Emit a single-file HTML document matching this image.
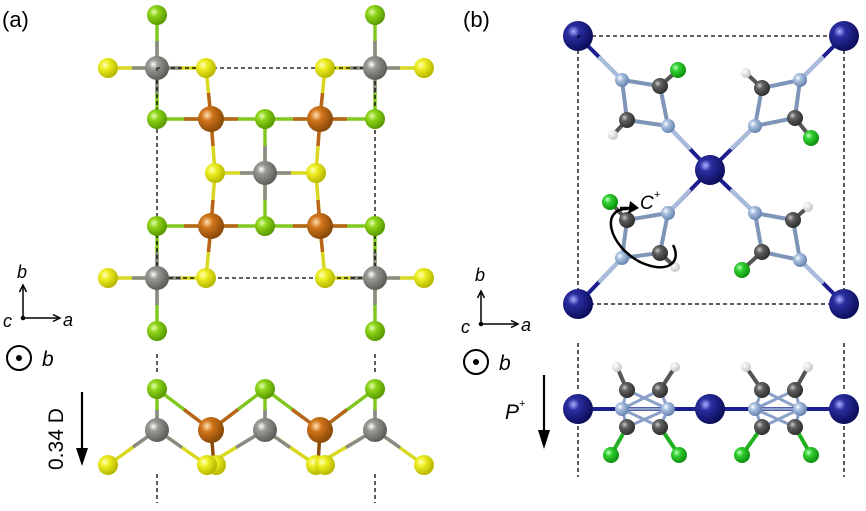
<!DOCTYPE html>
<html><head><meta charset="utf-8"><style>
html,body{margin:0;padding:0;background:#fff;}
svg{display:block;}
text{font-family:"Liberation Sans",sans-serif;fill:#000;}
</style></head><body>
<svg width="866" height="511" viewBox="0 0 866 511" xmlns="http://www.w3.org/2000/svg">
<defs>
<radialGradient id="gy" cx="35%" cy="35%" r="65%"><stop offset="0" stop-color="#ffffc0"/><stop offset="0.35" stop-color="#eeee22"/><stop offset="1" stop-color="#b8b800"/></radialGradient>
<radialGradient id="gg" cx="35%" cy="35%" r="65%"><stop offset="0" stop-color="#e6ffb0"/><stop offset="0.35" stop-color="#8ed41a"/><stop offset="1" stop-color="#5a9a00"/></radialGradient>
<radialGradient id="gr" cx="35%" cy="35%" r="65%"><stop offset="0" stop-color="#ffffff"/><stop offset="0.3" stop-color="#9a9a94"/><stop offset="1" stop-color="#5e5e5a"/></radialGradient>
<radialGradient id="go" cx="35%" cy="35%" r="65%"><stop offset="0" stop-color="#ffe0b0"/><stop offset="0.35" stop-color="#d0741a"/><stop offset="1" stop-color="#8a4a08"/></radialGradient>
<radialGradient id="gb" cx="35%" cy="35%" r="65%"><stop offset="0" stop-color="#aab0ff"/><stop offset="0.3" stop-color="#2a2ea0"/><stop offset="1" stop-color="#0c0e5c"/></radialGradient>
<radialGradient id="gn" cx="35%" cy="35%" r="65%"><stop offset="0" stop-color="#ffffff"/><stop offset="0.35" stop-color="#a8c0e0"/><stop offset="1" stop-color="#6a86b0"/></radialGradient>
<radialGradient id="gc" cx="35%" cy="35%" r="65%"><stop offset="0" stop-color="#c8c8c8"/><stop offset="0.35" stop-color="#5e5e5e"/><stop offset="1" stop-color="#303030"/></radialGradient>
<radialGradient id="gl" cx="35%" cy="35%" r="65%"><stop offset="0" stop-color="#c0ffc0"/><stop offset="0.35" stop-color="#30d030"/><stop offset="1" stop-color="#109010"/></radialGradient>
<radialGradient id="gh" cx="35%" cy="35%" r="65%"><stop offset="0" stop-color="#ffffff"/><stop offset="1" stop-color="#c8c8c8"/></radialGradient>
</defs>

<text x="2" y="27" font-size="22">(a)</text>
<text x="463" y="27" font-size="22">(b)</text>

<!-- ===== Panel a top ===== -->
<g stroke-width="3.5">
<!-- gray-yellow horizontal -->
<g stroke="#d8d820">
<line x1="108" y1="68" x2="206" y2="68"/><line x1="325" y1="68" x2="424" y2="68"/>
<line x1="108" y1="278" x2="206" y2="278"/><line x1="325" y1="278" x2="424" y2="278"/>
<line x1="215" y1="173" x2="316" y2="173"/>
</g>
<g stroke="#8a8a86">
<line x1="132" y1="68" x2="181" y2="68"/><line x1="350" y1="68" x2="400" y2="68"/>
<line x1="132" y1="278" x2="181" y2="278"/><line x1="350" y1="278" x2="400" y2="278"/>
<line x1="240" y1="173" x2="291" y2="173"/>
</g>
<!-- gray-green vertical -->
<g stroke="#80c820">
<line x1="157" y1="15" x2="157" y2="119"/><line x1="375" y1="15" x2="375" y2="119"/>
<line x1="157" y1="226" x2="157" y2="331"/><line x1="375" y1="226" x2="375" y2="331"/>
<line x1="265" y1="119" x2="265" y2="226"/>
</g>
<g stroke="#8a8a86">
<line x1="157" y1="41" x2="157" y2="93"/><line x1="375" y1="41" x2="375" y2="93"/>
<line x1="157" y1="252" x2="157" y2="305"/><line x1="375" y1="252" x2="375" y2="305"/>
<line x1="265" y1="146" x2="265" y2="200"/>
</g>
<!-- green-orange -->
<g stroke="#80c820">
<line x1="157" y1="119" x2="375" y2="119"/><line x1="157" y1="226" x2="375" y2="226"/>
</g>
<g stroke="#b8641a">
<line x1="184" y1="119" x2="238" y2="119"/><line x1="293" y1="119" x2="347" y2="119"/>
<line x1="184" y1="226" x2="238" y2="226"/><line x1="293" y1="226" x2="347" y2="226"/>
</g>
<!-- orange-yellow -->
<g stroke="#d8d820">
<line x1="206" y1="68" x2="211" y2="119"/><line x1="325" y1="68" x2="320" y2="119"/>
<line x1="211" y1="119" x2="215" y2="173"/><line x1="320" y1="119" x2="316" y2="173"/>
<line x1="215" y1="173" x2="211" y2="226"/><line x1="316" y1="173" x2="320" y2="226"/>
<line x1="211" y1="226" x2="206" y2="278"/><line x1="320" y1="226" x2="325" y2="278"/>
</g>
<g stroke="#b8641a">
<line x1="208.5" y1="93" x2="211" y2="119"/><line x1="322.5" y1="93" x2="320" y2="119"/>
<line x1="211" y1="119" x2="213" y2="146"/><line x1="320" y1="119" x2="318" y2="146"/>
<line x1="213" y1="200" x2="211" y2="226"/><line x1="318" y1="200" x2="320" y2="226"/>
<line x1="211" y1="226" x2="208.5" y2="252"/><line x1="320" y1="226" x2="322.5" y2="252"/>
</g>
</g>
<rect x="157" y="68" width="218" height="210" fill="none" stroke="#000" stroke-width="1.3" stroke-dasharray="4,3"/>
<g>
<circle cx="157" cy="15" r="10" fill="url(#gg)"/><circle cx="375" cy="15" r="10" fill="url(#gg)"/>
<circle cx="108" cy="68" r="10" fill="url(#gy)"/><circle cx="424" cy="68" r="10" fill="url(#gy)"/>
<circle cx="206" cy="68" r="10" fill="url(#gy)"/><circle cx="325" cy="68" r="10" fill="url(#gy)"/>
<circle cx="157" cy="68" r="12" fill="url(#gr)"/><circle cx="375" cy="68" r="12" fill="url(#gr)"/>
<circle cx="157" cy="119" r="10" fill="url(#gg)"/><circle cx="265" cy="119" r="10" fill="url(#gg)"/><circle cx="375" cy="119" r="10" fill="url(#gg)"/>
<circle cx="211" cy="119" r="13" fill="url(#go)"/><circle cx="320" cy="119" r="13" fill="url(#go)"/>
<circle cx="215" cy="173" r="10" fill="url(#gy)"/><circle cx="316" cy="173" r="10" fill="url(#gy)"/>
<circle cx="265" cy="173" r="12" fill="url(#gr)"/>
<circle cx="157" cy="226" r="10" fill="url(#gg)"/><circle cx="265" cy="226" r="10" fill="url(#gg)"/><circle cx="375" cy="226" r="10" fill="url(#gg)"/>
<circle cx="211" cy="226" r="13" fill="url(#go)"/><circle cx="320" cy="226" r="13" fill="url(#go)"/>
<circle cx="108" cy="278" r="10" fill="url(#gy)"/><circle cx="424" cy="278" r="10" fill="url(#gy)"/>
<circle cx="206" cy="278" r="10" fill="url(#gy)"/><circle cx="325" cy="278" r="10" fill="url(#gy)"/>
<circle cx="157" cy="278" r="12" fill="url(#gr)"/><circle cx="375" cy="278" r="12" fill="url(#gr)"/>
<circle cx="157" cy="331" r="10" fill="url(#gg)"/><circle cx="375" cy="331" r="10" fill="url(#gg)"/>
</g>
<path d="M157 68 v3 M157 68 h3" stroke="#000" stroke-width="1"/>

<!-- Panel a side view -->
<g stroke="#000" stroke-width="1.3" stroke-dasharray="4,3">
<line x1="157" y1="354" x2="157" y2="372"/><line x1="375" y1="354" x2="375" y2="372"/>
<line x1="157" y1="474" x2="157" y2="503"/><line x1="375" y1="474" x2="375" y2="503"/>
</g>
<g stroke-width="3.5">
<g stroke="#80c820">
<line x1="157" y1="389" x2="211" y2="430"/><line x1="265" y1="389" x2="211" y2="430"/>
<line x1="265" y1="389" x2="320" y2="430"/><line x1="375" y1="389" x2="320" y2="430"/>
<line x1="157" y1="389" x2="157" y2="430"/><line x1="265" y1="389" x2="265" y2="430"/><line x1="375" y1="389" x2="375" y2="430"/>
</g>
<g stroke="#b8641a">
<line x1="184" y1="409.5" x2="211" y2="430"/><line x1="238" y1="409.5" x2="211" y2="430"/>
<line x1="292" y1="409.5" x2="320" y2="430"/><line x1="347" y1="409.5" x2="320" y2="430"/>
</g>
<g stroke="#8a8a86">
<line x1="157" y1="410" x2="157" y2="430"/><line x1="265" y1="410" x2="265" y2="430"/><line x1="375" y1="410" x2="375" y2="430"/>
</g>
<polyline points="108,465 157,430 207,465 265,430 316,465 375,430 424,465" fill="none" stroke="#d8d820"/>
<g stroke="#8a8a86">
<line x1="132" y1="447.5" x2="182" y2="447.5" stroke="none"/>
<line x1="133" y1="447" x2="157" y2="430"/><line x1="157" y1="430" x2="182" y2="447.5"/>
<line x1="236" y1="447.5" x2="265" y2="430"/><line x1="265" y1="430" x2="290" y2="447.5"/>
<line x1="346" y1="447.5" x2="375" y2="430"/><line x1="375" y1="430" x2="400" y2="447.5"/>
</g>
<line x1="211" y1="430" x2="214" y2="465" stroke="#8a4a08"/>
<line x1="320" y1="430" x2="318" y2="465" stroke="#8a4a08"/>
</g>
<g>
<circle cx="157" cy="389" r="10" fill="url(#gg)"/><circle cx="265" cy="389" r="10" fill="url(#gg)"/><circle cx="375" cy="389" r="10" fill="url(#gg)"/>
<circle cx="157" cy="430" r="12" fill="url(#gr)"/><circle cx="265" cy="430" r="12" fill="url(#gr)"/><circle cx="375" cy="430" r="12" fill="url(#gr)"/>
<circle cx="211" cy="430" r="13" fill="url(#go)"/><circle cx="320" cy="430" r="13" fill="url(#go)"/>
<circle cx="108" cy="465" r="10" fill="url(#gy)"/><circle cx="216" cy="465" r="10" fill="url(#gy)"/><circle cx="207" cy="465" r="10" fill="url(#gy)"/>
<circle cx="316" cy="465" r="10" fill="url(#gy)"/><circle cx="325" cy="465" r="10" fill="url(#gy)"/><circle cx="424" cy="465" r="10" fill="url(#gy)"/>
</g>

<!-- axes a -->
<text x="17" y="278" font-size="18" font-style="italic">b</text>
<text x="3" y="327" font-size="18" font-style="italic">c</text>
<text x="63" y="326" font-size="18" font-style="italic">a</text>
<g stroke="#000" stroke-width="1.5" fill="none">
<line x1="23" y1="318" x2="23" y2="287"/><path d="M19.5 292 L23 285 L26.5 292"/>
<line x1="23" y1="318" x2="58" y2="318"/><path d="M53 314.5 L60 318 L53 321.5"/>
<circle cx="19" cy="358" r="12" stroke-width="2"/>
</g>
<circle cx="23" cy="318" r="2.3"/>
<circle cx="19" cy="358" r="3"/>
<text x="42" y="366" font-size="21" font-style="italic">b</text>
<text transform="translate(63,470) rotate(-90)" font-size="21">0.34 D</text>
<line x1="82" y1="392" x2="82" y2="455" stroke="#000" stroke-width="2.2"/>
<path d="M76 448 L82 466 L88 448 Z" fill="#000"/>

<!-- ===== Panel b top ===== -->
<rect x="578" y="36" width="266" height="268" fill="none" stroke="#000" stroke-width="1.3" stroke-dasharray="4,3"/>
<g stroke-width="4" stroke-linecap="round">
<line x1="578" y1="36" x2="622" y2="80" stroke="#1c1e90"/>
<line x1="844" y1="36" x2="800" y2="80" stroke="#1c1e90"/>
<line x1="578" y1="304" x2="622" y2="258" stroke="#1c1e90"/>
<line x1="844" y1="304" x2="800" y2="260" stroke="#1c1e90"/>
<line x1="710" y1="170" x2="668" y2="126" stroke="#1c1e90"/>
<line x1="710" y1="170" x2="755" y2="126" stroke="#1c1e90"/>
<line x1="710" y1="170" x2="668" y2="213" stroke="#1c1e90"/>
<line x1="710" y1="170" x2="755" y2="213" stroke="#1c1e90"/>
<g stroke="#a8bcdc">
<line x1="600" y1="58" x2="622" y2="80"/><line x1="822" y1="58" x2="800" y2="80"/>
<line x1="600" y1="281" x2="622" y2="258"/><line x1="822" y1="282" x2="800" y2="260"/>
<line x1="689" y1="148" x2="668" y2="126"/><line x1="732" y1="148" x2="755" y2="126"/>
<line x1="689" y1="191" x2="668" y2="213"/><line x1="732" y1="191" x2="755" y2="213"/>
</g>
<g stroke="#7e94b8">
<polygon points="622,80 660,86 668,126 627,120" fill="none"/>
<polygon points="800,80 762,88 755,126 795,118" fill="none"/>
<polygon points="668,213 627,220 622,258 660,253" fill="none"/>
<polygon points="755,213 793,220 800,260 762,252" fill="none"/>
</g>
<g stroke="#555">
<line x1="660" y1="86" x2="678" y2="70"/><line x1="627" y1="120" x2="613" y2="135"/>
<line x1="762" y1="88" x2="746" y2="73"/><line x1="795" y1="118" x2="811" y2="138"/>
<line x1="627" y1="220" x2="610" y2="202"/><line x1="660" y1="253" x2="675" y2="267"/>
<line x1="793" y1="220" x2="808" y2="207"/><line x1="762" y1="252" x2="742" y2="270"/>
</g>
</g>
<g>
<circle cx="578" cy="36" r="15" fill="url(#gb)"/><circle cx="844" cy="36" r="15" fill="url(#gb)"/>
<circle cx="578" cy="304" r="15" fill="url(#gb)"/><circle cx="844" cy="304" r="15" fill="url(#gb)"/>
<circle cx="710" cy="170" r="15" fill="url(#gb)"/>
<circle cx="678" cy="70" r="8" fill="url(#gl)"/><circle cx="811" cy="138" r="8" fill="url(#gl)"/>
<circle cx="610" cy="202" r="8" fill="url(#gl)"/><circle cx="742" cy="270" r="8" fill="url(#gl)"/>
<circle cx="613" cy="135" r="5" fill="url(#gh)"/><circle cx="746" cy="73" r="5" fill="url(#gh)"/>
<circle cx="675" cy="267" r="5" fill="url(#gh)"/><circle cx="808" cy="207" r="5" fill="url(#gh)"/>
<circle cx="660" cy="86" r="8" fill="url(#gc)"/><circle cx="627" cy="120" r="8" fill="url(#gc)"/>
<circle cx="762" cy="88" r="8" fill="url(#gc)"/><circle cx="795" cy="118" r="8" fill="url(#gc)"/>
<circle cx="627" cy="220" r="8" fill="url(#gc)"/><circle cx="660" cy="253" r="8" fill="url(#gc)"/>
<circle cx="793" cy="220" r="8" fill="url(#gc)"/><circle cx="762" cy="252" r="8" fill="url(#gc)"/>
<circle cx="622" cy="80" r="7" fill="url(#gn)"/><circle cx="668" cy="126" r="7" fill="url(#gn)"/>
<circle cx="800" cy="80" r="7" fill="url(#gn)"/><circle cx="755" cy="126" r="7" fill="url(#gn)"/>
<circle cx="668" cy="213" r="7" fill="url(#gn)"/><circle cx="622" cy="258" r="7" fill="url(#gn)"/>
<circle cx="755" cy="213" r="7" fill="url(#gn)"/><circle cx="800" cy="260" r="7" fill="url(#gn)"/>
</g>
<path d="M578 36 v3 M578 36 h3" stroke="#000" stroke-width="1"/>
<!-- rotation arrow -->
<path d="M628 209 C 600 208, 608 245, 640 262 C 668 275, 682 262, 673 245" fill="none" stroke="#000" stroke-width="2.5"/>
<path d="M620 208 L634 208" stroke="#000" stroke-width="2.5"/>
<path d="M630 201 L639 208 L628 214 Z" fill="#000"/>
<text x="640" y="209" font-size="19" font-style="italic">C</text>
<text x="654" y="198" font-size="11">+</text>

<!-- axes b -->
<text x="475" y="281" font-size="18" font-style="italic">b</text>
<text x="461" y="333" font-size="18" font-style="italic">c</text>
<text x="521" y="331" font-size="18" font-style="italic">a</text>
<g stroke="#000" stroke-width="1.5" fill="none">
<line x1="481" y1="324" x2="481" y2="293"/><path d="M477.5 298 L481 291 L484.5 298"/>
<line x1="481" y1="324" x2="516" y2="324"/><path d="M511 320.5 L518 324 L511 327.5"/>
<circle cx="476" cy="362" r="12" stroke-width="2"/>
</g>
<circle cx="481" cy="324" r="2.3"/>
<circle cx="476" cy="362" r="3"/>
<text x="499" y="370" font-size="21" font-style="italic">b</text>
<text x="505" y="419" font-size="21" font-style="italic">P</text>
<text x="519" y="407" font-size="11">+</text>
<line x1="544" y1="375" x2="544" y2="437" stroke="#000" stroke-width="2.2"/>
<path d="M538 430 L544 449 L550 430 Z" fill="#000"/>

<!-- b side -->
<g stroke="#000" stroke-width="1.3" stroke-dasharray="4,3">
<line x1="578" y1="343" x2="578" y2="392"/><line x1="844" y1="343" x2="844" y2="392"/>
<line x1="578" y1="426" x2="578" y2="477"/><line x1="844" y1="426" x2="844" y2="477"/>
</g>
<g stroke-width="4">
<line x1="578" y1="409" x2="844" y2="409" stroke="#1c1e90"/>
<g stroke="#8aa0c8" stroke-width="3">
<line x1="622" y1="409" x2="668" y2="409"/><line x1="755" y1="409" x2="800" y2="409"/>
<polyline points="627,390 668,409 660,427 622,409 627,390" fill="none"/>
<polyline points="660,390 622,409 627,427 668,409 660,390" fill="none"/>
<polyline points="762,390 800,409 795,427 755,409 762,390" fill="none"/>
<polyline points="795,390 755,409 762,427 800,409 795,390" fill="none"/>
</g>
<g stroke="#555">
<line x1="627" y1="390" x2="617" y2="367"/><line x1="660" y1="390" x2="675" y2="367"/>
<line x1="762" y1="390" x2="746" y2="367"/><line x1="795" y1="390" x2="808" y2="367"/>
</g>
<g stroke="#20b020">
<line x1="627" y1="427" x2="611" y2="455"/><line x1="660" y1="427" x2="679" y2="455"/>
<line x1="762" y1="427" x2="742" y2="455"/><line x1="795" y1="427" x2="811" y2="455"/>
</g>
</g>
<g>
<circle cx="617" cy="367" r="5" fill="url(#gh)"/><circle cx="675" cy="367" r="5" fill="url(#gh)"/>
<circle cx="746" cy="367" r="5" fill="url(#gh)"/><circle cx="808" cy="367" r="5" fill="url(#gh)"/>
<circle cx="627" cy="390" r="8" fill="url(#gc)"/><circle cx="660" cy="390" r="8" fill="url(#gc)"/>
<circle cx="762" cy="390" r="8" fill="url(#gc)"/><circle cx="795" cy="390" r="8" fill="url(#gc)"/>
<circle cx="627" cy="427" r="8" fill="url(#gc)"/><circle cx="660" cy="427" r="8" fill="url(#gc)"/>
<circle cx="762" cy="427" r="8" fill="url(#gc)"/><circle cx="795" cy="427" r="8" fill="url(#gc)"/>
<circle cx="622" cy="409" r="7" fill="url(#gn)"/><circle cx="668" cy="409" r="7" fill="url(#gn)"/>
<circle cx="755" cy="409" r="7" fill="url(#gn)"/><circle cx="800" cy="409" r="7" fill="url(#gn)"/>
<circle cx="611" cy="455" r="8" fill="url(#gl)"/><circle cx="679" cy="455" r="8" fill="url(#gl)"/>
<circle cx="742" cy="455" r="8" fill="url(#gl)"/><circle cx="811" cy="455" r="8" fill="url(#gl)"/>
<circle cx="578" cy="409" r="15" fill="url(#gb)"/><circle cx="710" cy="409" r="15" fill="url(#gb)"/><circle cx="844" cy="409" r="15" fill="url(#gb)"/>
</g>
</svg>
</body></html>
